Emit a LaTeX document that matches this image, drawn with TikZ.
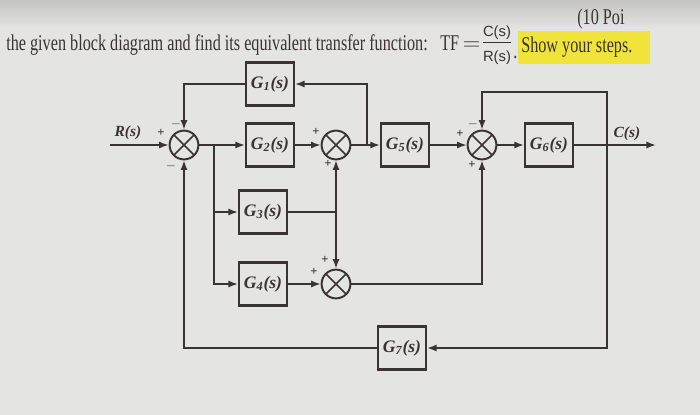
\documentclass[tikz,border=0pt]{standalone}
\usepackage{amsmath}
\usepackage{fontspec}
\setmainfont{Liberation Serif}
\setsansfont{Liberation Sans}
\newfontfamily\narrowserif[FakeStretch=0.72]{Liberation Serif}
\usetikzlibrary{arrows.meta,positioning,calc}
\definecolor{ink}{HTML}{3A3333}
\definecolor{paper}{HTML}{E4E4E2}
\definecolor{shadow}{HTML}{C4C4C2}
\definecolor{marker}{HTML}{F0E43C}
\newcommand{\Gblk}[1]{\textbf{\textit{G\textsubscript{#1}(s)}}}
\newcommand{\sig}[1]{\textsf{\fontsize{10.5}{12}\selectfont #1}}

\begin{document}
\begin{tikzpicture}[x=0.025cm,y=-0.025cm,
  every node/.style={font=\small,align=center,text=ink},
  arr/.style={-{Latex[length=2.4mm,width=1.8mm]},line width=1.2pt,draw=ink},
  wire/.style={line width=1.2pt,draw=ink},
  block/.style={draw=ink,line width=1.6pt,minimum width=1.2cm,
    minimum height=1.07cm,font=\fontsize{12.5}{14}\selectfont},
  sumj/.style={circle,draw=ink,line width=1.4pt,minimum size=0.72cm,inner sep=0pt,
    path picture={\draw[ink,line width=1.1pt]
      (path picture bounding box.north west) -- (path picture bounding box.south east)
      (path picture bounding box.north east) -- (path picture bounding box.south west);}},
  sgn/.style={font=\fontsize{9}{9}\selectfont\bfseries,inner sep=0pt},
  head/.style={font=\narrowserif\fontsize{16}{18}\selectfont,inner sep=0pt,anchor=base west}
]
\useasboundingbox (0,0) rectangle (700,415);
\fill[paper] (0,0) rectangle (700,415);
\shade[top color=shadow,bottom color=paper] (0,0) rectangle (700,28);

% question line
\node[head] (task) at (6,50) {the given block diagram and find its equivalent transfer function:};
\node[head] (tf) at (440,50) {TF\,$=$};
\node[inner sep=0pt,font=\normalsize] (ratio) at (497,45)
  {$\dfrac{\sig{C(s)}\rule[-3pt]{0pt}{3pt}}{\rule{0pt}{12pt}\sig{R(s)}}$};
\node[head] (dot) at (513,58) {.};
\fill[marker] (518,31) rectangle (650,64);
\node[head] (steps) at (521,52) {Show your steps.};
\node[head] (points) at (577,24) {(10 Poi};

% blocks
\node[block] (G1) at (270,84) {\Gblk{1}};
\node[block] (G2) at (270,145) {\Gblk{2}};
\node[block] (G3) at (263,212) {\Gblk{3}};
\node[block] (G4) at (263,284) {\Gblk{4}};
\node[block] (G5) at (405,145) {\Gblk{5}};
\node[block] (G6) at (549,145) {\Gblk{6}};
\node[block] (G7) at (402,348) {\Gblk{7}};

% summing points
\node[sumj] (s1) at (184,145) {};
\node[sumj] (s2) at (336,145) {};
\node[sumj] (s3) at (336,284) {};
\node[sumj] (s4) at (482,145) {};

% take-off points and ends
\coordinate (rin) at (110,145);
\coordinate (b1) at (214,145);
\coordinate (b2) at (367,145);
\coordinate (b3) at (607,145);
\coordinate (j3) at (336,212);
\coordinate (top4) at (607,92);
\coordinate (cout) at (656,145);

\node[font=\fontsize{11}{12}\selectfont\bfseries\itshape] (rlab) at (128,133) {R(s)};
\node[font=\fontsize{11}{12}\selectfont\bfseries\itshape] (clab) at (627,134) {C(s)};

% signs
\node[sgn] (p1a) at ($(s1)+(-23,-12)$) {+};
\node[sgn] (m1b) at ($(s1)+(-8,-21)$) {$-$};
\node[sgn] (m1c) at ($(s1)+(-13,21)$) {$-$};
\node[sgn] (p2a) at ($(s2)+(-20,-13)$) {+};
\node[sgn] (p2b) at ($(s2)+(-8,19)$) {+};
\node[sgn] (p3a) at ($(s3)+(-11,-24)$) {+};
\node[sgn] (p3b) at ($(s3)+(-22,-12)$) {+};
\node[sgn] (m4a) at ($(s4)+(-9,-21)$) {$-$};
\node[sgn] (p4b) at ($(s4)+(-22,-11)$) {+};
\node[sgn] (p4c) at ($(s4)+(-10,20)$) {+};

% forward path
\draw[arr] (rin) -- (s1);
\draw[arr] (s1) -- (G2);
\draw[arr] (G2) -- (s2);
\draw[arr] (s2) -- (G5);
\draw[arr] (G5) -- (s4);
\draw[arr] (s4) -- (G6);
\draw[arr] (G6) -- (cout);

% parallel branches
\draw[arr] (b1) |- (G3);
\draw[arr] (b1) |- (G4);
\draw[wire] (G3) -- (j3);
\draw[arr] (j3) -- (s2);
\draw[arr] (j3) -- (s3);
\draw[arr] (G4) -- (s3);
\draw[arr] (s3) -| (s4);

% feedback loops
\draw[arr] (b2) |- (G1);
\draw[arr] (G1) -| (s1);
\draw[arr] (b3) -- (top4) -| (s4);
\draw[arr] (b3) |- (G7);
\draw[arr] (G7) -| (s1);
\end{tikzpicture}
\end{document}
